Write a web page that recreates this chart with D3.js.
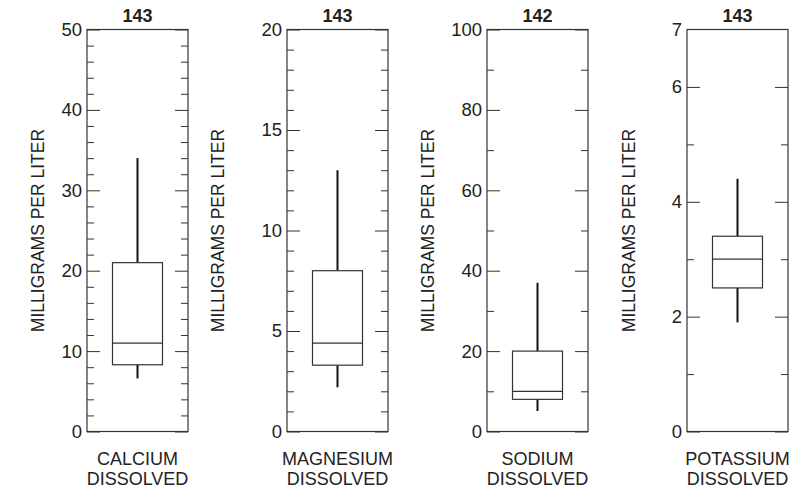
<!DOCTYPE html>
<html>
<head>
<meta charset="utf-8">
<script src="https://cdn.jsdelivr.net/npm/d3@7"></script>
<style>
  html, body { margin: 0; padding: 0; background: #fff; }
  svg { display: block; }
  text { font-family: "Liberation Sans", Arial, Helvetica, sans-serif; fill: #222; }
</style>
</head>
<body>
<svg id="chart" width="805" height="495"></svg>
<script>
// ---- data ----
const categoryLine1 = ["CALCIUM", "MAGNESIUM", "SODIUM", "POTASSIUM"];
const categoryLine2 = ["DISSOLVED", "DISSOLVED", "DISSOLVED", "DISSOLVED"];
const sampleCounts = [143, 143, 142, 143];
const whiskerLow  = [6.6, 2.2, 5.1, 1.9];
const quartile1   = [8.3, 3.3, 8.0, 2.5];
const medians     = [11.0, 4.4, 10.0, 3.0];
const quartile3   = [21.0, 8.0, 20.0, 3.4];
const whiskerHigh = [34.0, 13.0, 37.0, 4.4];
const axisMax     = [50, 20, 100, 7];
const majorTicks  = [[0,10,20,30,40,50],[0,5,10,15,20],[0,20,40,60,80,100],[0,2,4,6]];
const tickLabels  = [[0,10,20,30,40,50],[0,5,10,15,20],[0,20,40,60,80,100],[0,2,4,6,7]];
const minorTicks  = [[2,4,6,8,12,14,16,18,22,24,26,28,32,34,36,38,42,44,46,48],
                     [1,2,3,4,6,7,8,9,11,12,13,14,16,17,18,19],
                     [10,30,50,70,90],
                     [1,3,5]];
const yTitle = "MILLIGRAMS PER LITER";

// ---- layout ----
const panelOffset = 200;
const plotLeft = 87, plotRight = 188, plotTop = 29.5, plotBottom = 431.5;
const boxHalf = 25;
const titleOffsets = [49, 69, 59, 58];

const svg = d3.select("#chart");

categoryLine1.forEach((cat, i) => {
  const g = svg.append("g").attr("transform", `translate(${i * panelOffset},0)`);
  const y = d3.scaleLinear().domain([0, axisMax[i]]).range([plotBottom, plotTop]);
  const cx = (plotLeft + plotRight) / 2;

  // frame
  g.append("rect")
    .attr("x", plotLeft).attr("y", plotTop)
    .attr("width", plotRight - plotLeft).attr("height", plotBottom - plotTop)
    .attr("fill", "none").attr("stroke", "#333").attr("stroke-width", 1.2);

  // major ticks (left)
  const leftMajor = d3.axisLeft(y).tickValues(majorTicks[i]).tickSize(-13).tickFormat("");
  const gl = g.append("g").attr("transform", `translate(${plotLeft},0)`).call(leftMajor);
  gl.select(".domain").remove();
  gl.selectAll("line").attr("stroke", "#333").attr("stroke-width", 1);

  // tick labels
  const labAxis = d3.axisLeft(y).tickValues(tickLabels[i]).tickSize(0).tickPadding(5).tickFormat(d3.format("d"));
  const glab = g.append("g").attr("transform", `translate(${plotLeft},0)`).call(labAxis);
  glab.select(".domain").remove();
  glab.selectAll("line").remove();
  glab.selectAll("text")
    .style("font-size", "18.5px")
    .style("font-family", "'Liberation Sans', Arial, Helvetica, sans-serif")
    .attr("fill", "#222");

  const leftMinor = d3.axisLeft(y).tickValues(minorTicks[i]).tickSize(-7).tickFormat("");
  const glm = g.append("g").attr("transform", `translate(${plotLeft},0)`).call(leftMinor);
  glm.select(".domain").remove();
  glm.selectAll("line").attr("stroke", "#333").attr("stroke-width", 1);

  // right ticks
  const rightMajor = d3.axisRight(y).tickValues(majorTicks[i]).tickSize(-13).tickFormat("");
  const gr = g.append("g").attr("transform", `translate(${plotRight},0)`).call(rightMajor);
  gr.select(".domain").remove();
  gr.selectAll("line").attr("stroke", "#333").attr("stroke-width", 1);

  const rightMinor = d3.axisRight(y).tickValues(minorTicks[i]).tickSize(-7).tickFormat("");
  const grm = g.append("g").attr("transform", `translate(${plotRight},0)`).call(rightMinor);
  grm.select(".domain").remove();
  grm.selectAll("line").attr("stroke", "#333").attr("stroke-width", 1);

  // whiskers
  g.append("line").attr("x1", cx).attr("x2", cx)
    .attr("y1", y(quartile3[i])).attr("y2", y(whiskerHigh[i]))
    .attr("stroke", "#111").attr("stroke-width", 2);
  g.append("line").attr("x1", cx).attr("x2", cx)
    .attr("y1", y(quartile1[i])).attr("y2", y(whiskerLow[i]))
    .attr("stroke", "#111").attr("stroke-width", 2);

  // box
  g.append("rect")
    .attr("x", cx - boxHalf).attr("y", y(quartile3[i]))
    .attr("width", boxHalf * 2).attr("height", y(quartile1[i]) - y(quartile3[i]))
    .attr("fill", "#fff").attr("stroke", "#333").attr("stroke-width", 1.2);
  g.append("line")
    .attr("x1", cx - boxHalf).attr("x2", cx + boxHalf)
    .attr("y1", y(medians[i])).attr("y2", y(medians[i]))
    .attr("stroke", "#333").attr("stroke-width", 1.2);

  // count above
  g.append("text").attr("x", cx).attr("y", 22)
    .attr("text-anchor", "middle")
    .style("font-size", "18px").style("font-weight", "bold")
    .text(sampleCounts[i]);

  // y title
  g.append("text")
    .attr("transform", `translate(${plotLeft - titleOffsets[i]},${(plotTop + plotBottom) / 2}) rotate(-90)`)
    .attr("text-anchor", "middle").attr("dominant-baseline", "central")
    .style("font-size", "17.5px")
    .text(yTitle);

  // category label
  g.append("text").attr("x", cx).attr("y", 465)
    .attr("text-anchor", "middle").style("font-size", "18px")
    .text(cat);
  g.append("text").attr("x", cx).attr("y", 485)
    .attr("text-anchor", "middle").style("font-size", "18px")
    .text(categoryLine2[i]);
});
</script>
</body>
</html>
